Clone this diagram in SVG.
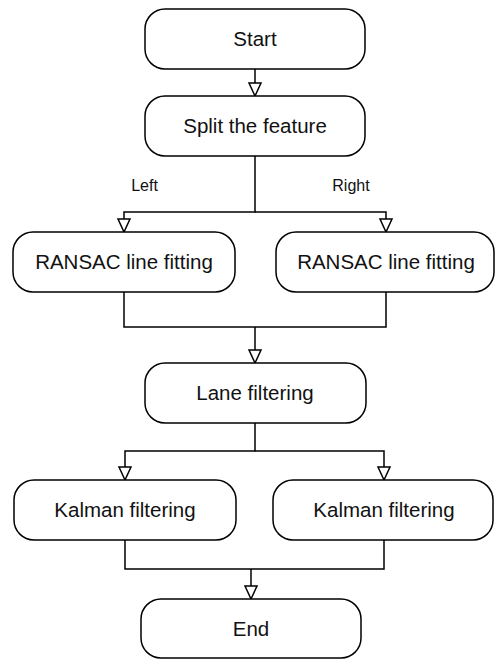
<svg xmlns="http://www.w3.org/2000/svg" width="495" height="661" viewBox="0 0 495 661">
<defs>
<style>
.box{fill:#fff;stroke:#000;stroke-width:1.5}
.t{font-family:"Liberation Sans",Arial,sans-serif;font-size:20.5px;fill:#111;text-anchor:middle}
.l{font-family:"Liberation Sans",Arial,sans-serif;font-size:16px;fill:#111;text-anchor:middle}
.c{fill:none;stroke:#000;stroke-width:1.5}
.a{marker-end:url(#ah)}
</style>
<marker id="ah" markerUnits="userSpaceOnUse" markerWidth="18" markerHeight="18" viewBox="-15 -9 18 18" refX="0" refY="0" orient="auto">
<path d="M-13,-6 L-13,6 L0,0 Z" fill="#fff" stroke="#000" stroke-width="1.5"/>
</marker>
</defs>
<rect width="495" height="661" fill="#fff"/>
<g id="connectors">
<path class="c a" d="M255,69 V96"/>
<path class="c a" d="M255,156 V212 H124 V232"/>
<path class="c a" d="M255,212 H386 V232"/>
<path class="c" d="M124,292 V327 H386 V292"/>
<path class="c a" d="M255,327 V363"/>
<path class="c a" d="M255,423 V451 H125 V480"/>
<path class="c a" d="M255,451 H384 V480"/>
<path class="c" d="M125,540 V569 H384 V540"/>
<path class="c a" d="M251,569 V599"/>
<text class="l" x="144.5" y="191">Left</text>
<text class="l" x="351" y="191">Right</text>
</g>
<g id="start"><rect class="box" x="145" y="9" width="220" height="60" rx="20"/><text class="t" x="255" y="46">Start</text></g>
<g id="split"><rect class="box" x="145" y="96" width="220" height="60" rx="20"/><text class="t" x="255" y="133">Split the feature</text></g>
<g id="ransac-left"><rect class="box" x="13" y="232" width="222" height="60" rx="20"/><text class="t" x="124" y="269">RANSAC line fitting</text></g>
<g id="ransac-right"><rect class="box" x="276" y="232" width="218" height="60" rx="20"/><text class="t" x="386" y="269">RANSAC line fitting</text></g>
<g id="lane"><rect class="box" x="145" y="363" width="221" height="60" rx="20"/><text class="t" x="255" y="400">Lane filtering</text></g>
<g id="kalman-left"><rect class="box" x="14" y="480" width="222" height="60" rx="20"/><text class="t" x="125" y="517">Kalman filtering</text></g>
<g id="kalman-right"><rect class="box" x="273" y="480" width="220" height="60" rx="20"/><text class="t" x="384" y="517">Kalman filtering</text></g>
<g id="end"><rect class="box" x="141" y="599" width="220" height="59" rx="20"/><text class="t" x="251" y="636">End</text></g>
</svg>
